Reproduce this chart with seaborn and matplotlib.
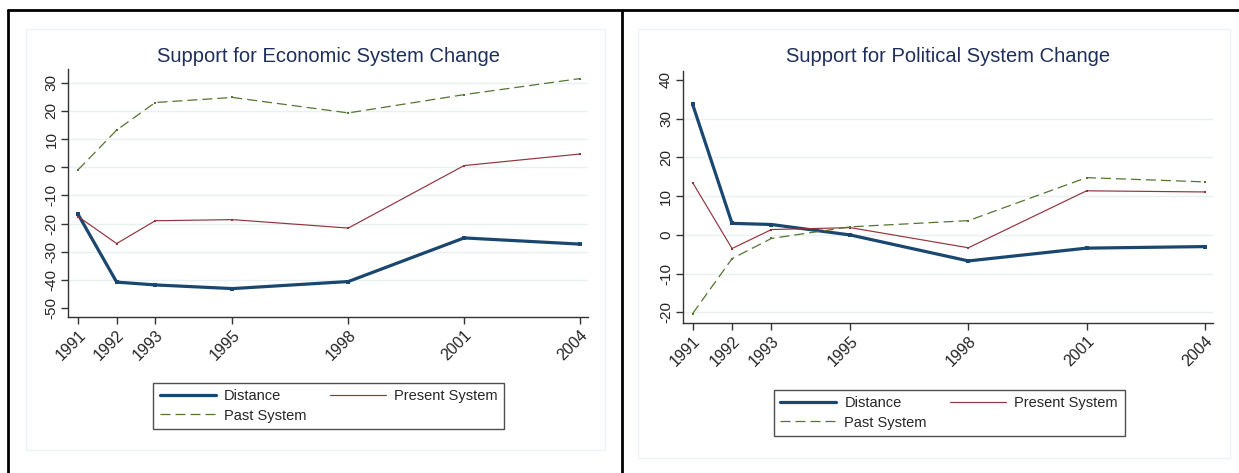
import seaborn as sns
import matplotlib.pyplot as plt
import pandas as pd
from matplotlib.lines import Line2D
from matplotlib.patches import Rectangle

years = [1991, 1992, 1993, 1995, 1998, 2001, 2004]

# Economic system change
econ_distance = [-16.7, -40.8, -41.8, -43.1, -40.6, -25.1, -27.3]
econ_present = [-17.5, -27.1, -19.0, -18.6, -21.6, 0.6, 4.7]
econ_past = [-0.9, 13.2, 23.0, 24.8, 19.3, 25.8, 31.5]

# Political system change
pol_distance = [33.7, 3.0, 2.7, 0.0, -6.7, -3.4, -3.0]
pol_present = [13.5, -3.5, 1.4, 1.9, -3.3, 11.4, 11.1]
pol_past = [-20.3, -6.1, -0.9, 2.1, 3.7, 14.8, 13.7]

titles = ['Support for Economic System Change', 'Support for Political System Change']
series_names = ['Distance', 'Present System', 'Past System']

sns.set_style('white')
plt.rcParams['font.family'] = ['Liberation Sans', 'DejaVu Sans']

fig = plt.figure(figsize=(12.39, 4.73), dpi=100)

#Axes placement (pixels -> figure fraction)
W, H = 1239, 473
def place(x0, x1, ytop, ybot):
    return [x0 / W, 1 - ybot / H, (x1 - x0) / W, (ybot - ytop) / H]

ax1 = fig.add_axes(place(68.4, 588, 69.3, 317.3))
ax2 = fig.add_axes(place(682.8, 1213, 70.7, 323.3))

styles = {
    'Distance': dict(color='#1a476f', lw=2.3, ls='-'),
    'Present System': dict(color='#90353b', lw=0.85, ls='-'),
    'Past System': dict(color='#55752f', lw=0.9, ls=(0, (8, 4))),
}

panels = [
    (ax1, [econ_distance, econ_present, econ_past], (-53.3, 34.8), list(range(-50, 31, 10)), list(range(-40, 31, 10)), (153.8, 504, 382, 430)),
    (ax2, [pol_distance, pol_present, pol_past], (-22.8, 42.4), list(range(-20, 41, 10)), list(range(-20, 31, 10)), (770.4, 1127.7, 388, 438)),
]

for i, (ax, vals, ylim, yticks, grid, legbox) in enumerate(panels):
    df = pd.DataFrame({'year': years * 3,
                       'value': vals[0] + vals[1] + vals[2],
                       'series': sum([[n] * len(years) for n in series_names], [])})
    for g in grid:
        ax.axhline(g, color='#e8f0f2', lw=1.0, zorder=0)
    for name in series_names:
        st = styles[name]
        sns.lineplot(data=df[df['series'] == name], x='year', y='value', ax=ax,
                     color=st['color'], lw=st['lw'], linestyle=st['ls'],
                     marker='s', markersize=2.2 if name == 'Distance' else 1.6,
                     markeredgewidth=0, legend=False)
    ax.set_xlim(1990.75, 2004.21)
    ax.set_ylim(*ylim)
    ax.set_xticks(years)
    ax.set_xticklabels([str(y) for y in years], rotation=45, ha='right',
                       rotation_mode='anchor', fontsize=11.5)
    ax.set_yticks(yticks)
    ax.set_yticklabels([str(t) for t in yticks], rotation=90, va='center', fontsize=11)
    ax.set_xlabel('')
    ax.set_ylabel('')
    ax.tick_params(axis='both', direction='out', length=5, width=1, color='#333333',
                   bottom=True, left=True, pad=2)
    for s in ['top', 'right']:
        ax.spines[s].set_visible(False)
    for s in ['left', 'bottom']:
        ax.spines[s].set_color('#333333')
        ax.spines[s].set_linewidth(1.0)

    # title centred over the axes, at the picture's height
    pos = ax.get_position()
    fig.text((pos.x0 + pos.x1) / 2, 1 - 57 / H, titles[i], ha='center', va='center',
             fontsize=14.5, color='#1f2f5c')

    handles = [Line2D([], [], **styles[n]) for n in series_names]
    # ncol=2 fills by column, so reorder to read row-wise
    order = [0, 2, 1]
    lx0, lx1, ly0, ly1 = legbox
    leg = fig.legend([handles[k] for k in order], [series_names[k] for k in order],
                     ncol=2, loc='center',
                     bbox_to_anchor=((lx0 + lx1) / 2 / W, 1 - (ly0 + ly1) / 2 / H),
                     fontsize=10.5, frameon=True, fancybox=False, edgecolor='#222222',
                     handlelength=3.85, columnspacing=1.6, handletextpad=0.55,
                     labelspacing=0.35, borderpad=0.45)
    leg.get_frame().set_linewidth(1.0)

#Faint outlines of the two plot regions
for (x0, x1, y0, y1) in [(25.7, 605, 29, 450), (637.8, 1230, 29, 458)]:
    fig.add_artist(Rectangle((x0 / W, 1 - y1 / H), (x1 - x0) / W, (y1 - y0) / H,
                             transform=fig.transFigure, fill=False,
                             edgecolor='#eef4f5', lw=1.0))

#Black table borders
fig.add_artist(Line2D([7.8 / W, 1], [1 - 10.5 / H] * 2, transform=fig.transFigure, color='black', lw=2))
fig.add_artist(Line2D([7.8 / W] * 2, [0, 1 - 10.5 / H], transform=fig.transFigure, color='black', lw=2))
fig.add_artist(Line2D([622 / W] * 2, [0, 1 - 10.5 / H], transform=fig.transFigure, color='black', lw=2))

fig.savefig('out.png', dpi=100)
